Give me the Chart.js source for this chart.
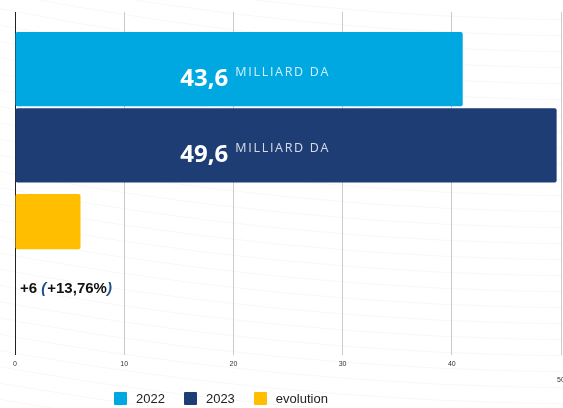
<!DOCTYPE html>
<html>
<head>
<meta charset="utf-8">
<script src="https://cdn.jsdelivr.net/npm/chart.js@4.4.1/dist/chart.umd.min.js"></script>
<style>
  html, body { margin: 0; padding: 0; background: #fff; }
  #wrap { position: relative; width: 563px; height: 408px; overflow: hidden; }
  #chart { position: absolute; left: 0; top: 0; }
  #legend { position: absolute; left: 114px; top: 391px; display: flex; align-items: center;
            font: 13px "Liberation Sans", Arial, sans-serif; color: #222; line-height: 15px; }
  #legend .item { display: flex; align-items: center; margin-right: 19px; }
  #legend .box { display: inline-block; width: 13px; height: 13px; margin-right: 9px; border-radius: 1px; }
</style>
</head>
<body>
<div id="wrap">
  <canvas id="chart" width="563" height="408"></canvas>
  <div id="legend"></div>
</div>
<script>
// Data
const categories = [''];
const seriesNames = ['2022', '2023', 'evolution'];
const values2022 = [41];
const values2023 = [49.6];
const valuesEvolution = [6];
const valueLabels = ['43,6', '49,6'];
const unitLabel = 'MILLIARD DA';
const evolutionParts = ['+6 ', '(', '+13,76%', ')'];
const xTicks = [0, 10, 20, 30, 40, 50];

const colors = ['#00a8e2', '#1f3d75', '#ffbf00'];

// faint curved lines behind the chart
const backdrop = {
    id: 'backdrop',
    beforeDraw(chart) {
        const ctx = chart.ctx;
        ctx.save();
        ctx.fillStyle = '#fff';
        ctx.fillRect(0, 0, chart.width, chart.height);
        ctx.strokeStyle = 'rgba(0,0,0,0.03)';
        ctx.lineWidth = 1;
        for (let r = 3020; r < 3500; r += 16) {
            ctx.beginPath();
            ctx.arc(600, -3000, r, 0, Math.PI);
            ctx.stroke();
        }
        ctx.restore();
    }
};

// value labels inside the bars + the evolution note
const barLabels = {
    id: 'barLabels',
    afterDatasetsDraw(chart) {
        const { ctx, chartArea } = chart;
        const cx = chartArea.left + (chartArea.right - chartArea.left) * 0.44;
        ctx.save();
        ctx.textAlign = 'left';
        ctx.textBaseline = 'alphabetic';

        valueLabels.forEach((txt, i) => {
            const bar = chart.getDatasetMeta(i).data[0];
            ctx.font = 'bold 24px "Open Sans", sans-serif';
            ctx.letterSpacing = '0px';
            const w1 = ctx.measureText(txt).width;
            ctx.font = '12.5px "Open Sans", sans-serif';
            ctx.letterSpacing = '1.7px';
            const w2 = ctx.measureText(unitLabel).width;
            const x0 = cx - (w1 + 7 + w2) / 2;
            const base = bar.y + 17;

            ctx.letterSpacing = '0px';
            ctx.font = 'bold 24px "Open Sans", sans-serif';
            ctx.fillStyle = '#fff';
            ctx.fillText(txt, x0, base);

            ctx.letterSpacing = '1.7px';
            ctx.font = '12.5px "Open Sans", sans-serif';
            ctx.fillStyle = 'rgba(255,255,255,0.82)';
            ctx.fillText(unitLabel, x0 + w1 + 7, base - 10);
        });

        ctx.letterSpacing = '0px';
        const evo = chart.getDatasetMeta(2).data[0];
        let x = chartArea.left + 5;
        const y = evo.y + 71;
        evolutionParts.forEach(part => {
            const paren = part === '(' || part === ')';
            ctx.font = (paren ? 'italic ' : '') + 'bold 15px "Liberation Sans", Arial, sans-serif';
            ctx.fillStyle = paren ? '#1f4f8f' : '#111';
            ctx.fillText(part, x, y);
            x += ctx.measureText(part).width + (paren ? 1 : 0);
        });
        ctx.restore();
    }
};

const ctx = document.getElementById('chart').getContext('2d');
const myChart = new Chart(ctx, {
    type: 'bar',
    data: {
        labels: categories,
        datasets: [
            { label: seriesNames[0], data: values2022, backgroundColor: colors[0],
              barPercentage: 0.974, categoryPercentage: 0.889, borderRadius: 2, borderSkipped: false },
            { label: seriesNames[1], data: values2023, backgroundColor: colors[1],
              barPercentage: 0.974, categoryPercentage: 0.889, borderRadius: 2, borderSkipped: false },
            { label: seriesNames[2], data: valuesEvolution, backgroundColor: colors[2],
              barPercentage: 0.724, categoryPercentage: 0.889, borderRadius: 2, borderSkipped: false },
            // empty slot that holds the evolution note
            { label: 'note', data: [null], backgroundColor: 'rgba(0,0,0,0)',
              barPercentage: 0.974, categoryPercentage: 0.889 }
        ]
    },
    options: {
        indexAxis: 'y',
        responsive: false,
        animation: false,
        layout: { padding: { top: 12, left: 15, right: 2, bottom: 16 } },
        scales: {
            x: {
                min: 0,
                max: 50,
                afterBuildTicks: scale => { scale.ticks = xTicks.map(v => ({ value: v })); },
                // let the end labels hang over the edge like the original
                afterFit: scale => { scale.paddingLeft = 0; scale.paddingRight = 0; },
                grid: { color: '#cbcbcb', drawTicks: false },
                border: { display: false },
                ticks: {
                    padding: 5,
                    color: '#333',
                    font: c => ({ family: '"Liberation Sans", Arial, sans-serif', size: 7,
                                  lineHeight: c.tick && c.tick.value === 50 ? 1.93 : 1.2 }),
                    callback: v => v === 50 ? ['', '50'] : String(v)
                }
            },
            y: {
                ticks: { display: false },
                grid: { display: false, drawTicks: false },
                border: { display: true, color: '#222', width: 1 }
            }
        },
        plugins: {
            legend: { display: false },
            tooltip: { enabled: false }
        }
    },
    plugins: [backdrop, barLabels]
});

// Legend
const legend = document.getElementById('legend');
seriesNames.forEach((name, i) => {
    const item = document.createElement('div');
    item.className = 'item';
    item.innerHTML = `<span class="box" style="background:${colors[i]}"></span>${name}`;
    legend.appendChild(item);
});
</script>
</body>
</html>
